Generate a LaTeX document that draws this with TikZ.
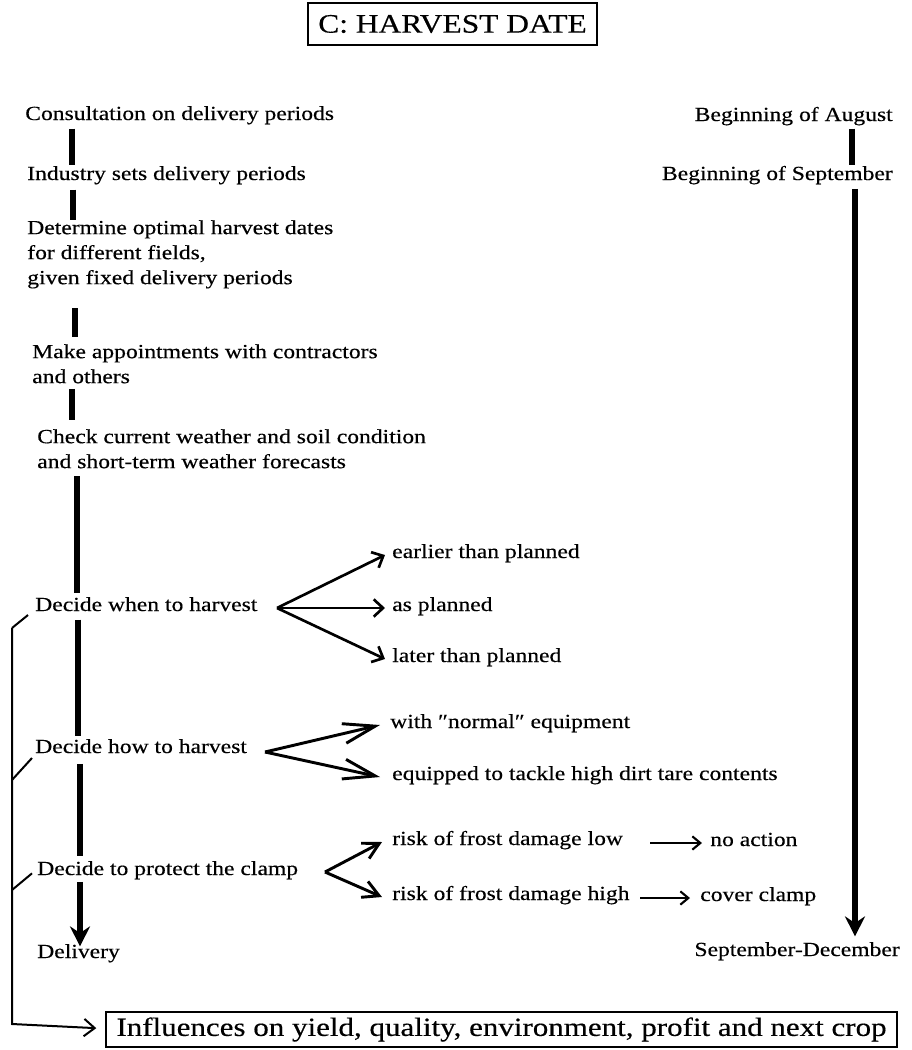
\documentclass[tikz,border=0pt]{standalone}
\usepackage{fontspec}
\setmainfont{Liberation Serif}[FakeStretch=1.18,FakeBold=0.4]
\usetikzlibrary{arrows.meta}
\newcommand\mainsize{\fontsize{15pt}{18.75pt}\selectfont}
\begin{document}
\begin{tikzpicture}[x=0.75pt,y=-0.75pt,
  t/.style={anchor=west,inner sep=0pt,text height=0.7em,text depth=0.25em,font=\mainsize},
  m/.style={anchor=north west,inner sep=0pt,align=left,font=\mainsize},
  titlebox/.style={draw,line width=1.1pt,minimum width=216.75pt,minimum height=31.5pt,inner sep=0pt,font=\fontsize{20pt}{24pt}\selectfont},
  infobox/.style={draw,line width=1.1pt,minimum width=593.25pt,minimum height=26.25pt,inner sep=0pt,font=\fontsize{19.7pt}{24pt}\selectfont},
  bar/.style={line width=4.5pt},
  downarr/.style={line width=4.5pt,-{Stealth[length=15pt,width=15pt,inset=5pt]}},
  whenarr/.style={line width=2pt,-{Straight Barb[length=7pt,width=13pt]}},
  howarr/.style={line width=2.2pt,-{Straight Barb[length=24pt,width=15pt]}},
  protarr/.style={line width=2.2pt,-{Straight Barb[length=12pt,width=13pt]}},
  smallarr/.style={line width=1.6pt,-{Straight Barb[length=6pt,width=10pt]}},
  fb/.style={line width=1.5pt},
]
\useasboundingbox (0,0) rectangle (911,1050);

% heading
\node[titlebox] (title) at (452.5,24) {C: HARVEST DATE};

% left column: planning steps
\node[t] (c1) at (25,117) {Consultation on delivery periods};
\node[t] (c2) at (27,177) {Industry sets delivery periods};
\node[m] (c3) at (27,220) {Determine optimal harvest dates\\for different fields,\\given fixed delivery periods};
\node[m] (c4) at (32,344) {Make appointments with contractors\\and others};
\node[m] (c5) at (37,429) {Check current weather and soil condition\\and short-term weather forecasts};
\node[t] (d1) at (35,608) {Decide when to harvest};
\node[t] (d2) at (35,750) {Decide how to harvest};
\node[t] (d3) at (37,872) {Decide to protect the clamp};
\node[t] (dl) at (37,955) {Delivery};

% right column: time line
\node[t,anchor=east] (r1) at (893,118) {Beginning of August};
\node[t,anchor=east] (r2) at (893,177) {Beginning of September};
\node[t,anchor=east] (r3) at (900,953) {September-December};

% options of the decisions
\node[t] (o1) at (392,555) {earlier than planned};
\node[t] (o2) at (392,608) {as planned};
\node[t] (o3) at (392,659) {later than planned};
\node[t] (h1) at (390,725) {with ″normal″ equipment};
\node[t] (h2) at (392,777) {equipped to tackle high dirt tare contents};
\node[t] (p1) at (392,842) {risk of frost damage low};
\node[t] (p2) at (392,897) {risk of frost damage high};
\node[t] (n1) at (710,843) {no action};
\node[t] (n2) at (700,898) {cover clamp};

% consequences
\node[infobox] (inf) at (501.5,1029.5) {Influences on yield, quality, environment, profit and next crop};

% branching points
\coordinate (bw) at (277,608);
\coordinate (bh) at (265,752);
\coordinate (bp) at (325,872);

% spine positions
\coordinate (xa) at (72,0);
\coordinate (xb) at (73,0);
\coordinate (xc) at (75,0);
\coordinate (xd) at (72,0);
\coordinate (xe) at (77,0);
\coordinate (xf) at (78,0);
\coordinate (xg) at (80,0);
\coordinate (xr) at (852,0);
\coordinate (xs) at (855,0);

% left spine
\draw[bar,shorten <=3.75pt,shorten >=3.75pt] (c1.south -| xa) -- (c2.north -| xa);
\draw[bar,shorten <=4.5pt] (c2.south -| xb) -- (c3.north -| xb);
\draw[bar,shorten <=14.6pt,shorten >=5.25pt] (c3.south -| xc) -- (c4.north -| xc);
\draw[bar,shorten <=4pt,shorten >=6.75pt] (c4.south -| xd) -- (c5.north -| xd);
\draw[bar,shorten <=5.6pt,shorten >=6pt] (c5.south -| xe) -- (d1.north -| xe);
\draw[bar,shorten <=3.75pt,shorten >=5.25pt] (d1.south -| xf) -- (d2.north -| xf);
\draw[bar,shorten <=5.4pt,shorten >=6.75pt] (d2.south -| xg) -- (d3.north -| xg);
\draw[downarr,shorten <=2.4pt,shorten >=1.5pt] (d3.south -| xg) -- (dl.north -| xg);

% right spine
\draw[bar,shorten <=3pt,shorten >=3.75pt] (r1.south -| xr) -- (r2.north -| xr);
\draw[downarr,shorten <=3.9pt,shorten >=7.5pt] (r2.south -| xs) -- (r3.north -| xs);

% when to harvest
\draw[whenarr] (bw) -- ([xshift=-5.25pt]o1.west);
\draw[whenarr] (bw) -- ([xshift=-5.25pt]o2.west);
\draw[whenarr] (bw) -- ([xshift=-5.25pt]o3.west);

% how to harvest
\draw[howarr] (bh) -- ([xshift=-7.5pt]h1.west);
\draw[howarr] (bh) -- ([xshift=-9pt]h2.west);

% protect the clamp
\draw[protarr] (bp) -- ([xshift=-7.5pt]p1.west);
\draw[protarr] (bp) -- ([xshift=-7.5pt]p2.west);
\draw[smallarr] ([xshift=-45pt]n1.west) -- ([xshift=-6pt]n1.west);
\draw[smallarr] ([xshift=-45pt]n2.west) -- ([xshift=-7.5pt]n2.west);

% feedback line to the consequences
\coordinate (g1) at (12,628);
\coordinate (g2) at (12,780);
\coordinate (g3) at (12,890);
\coordinate (g4) at (12,1024);
\draw[fb] ([xshift=-5.25pt,yshift=-5.25pt]d1.west) -- (g1);
\draw[fb] ([xshift=-2.25pt,yshift=-6pt]d2.west) -- (g2);
\draw[fb] ([xshift=-3.75pt,yshift=-1pt]d3.west) -- (g3);
\draw[fb,-{Straight Barb[length=8pt,width=13pt]}] (g1) -- (g4) -- ([xshift=-6.75pt,yshift=1pt]inf.west);
\end{tikzpicture}
\end{document}
